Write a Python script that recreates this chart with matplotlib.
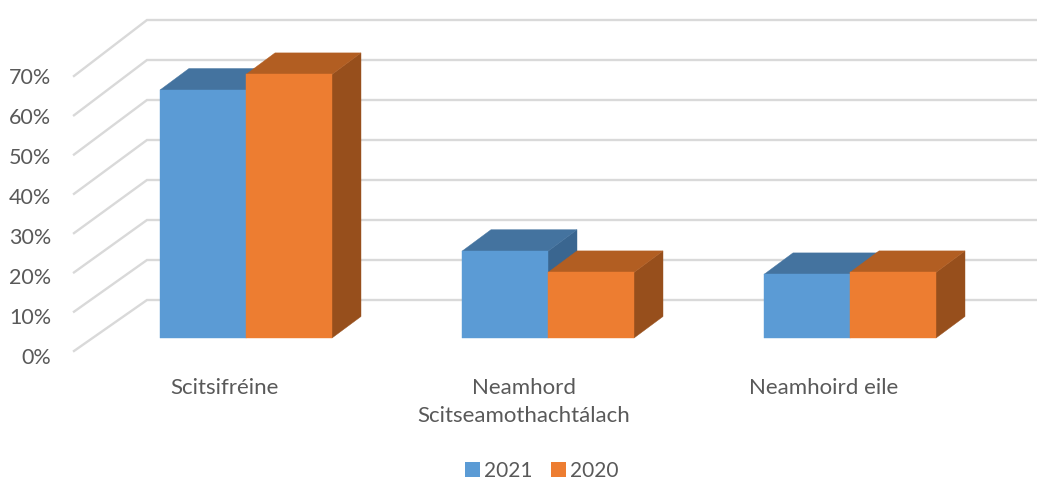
import matplotlib
matplotlib.use("Agg")
import matplotlib.pyplot as plt
from matplotlib.patches import Polygon, Patch

categories = ["Scitsifréine", "Neamhord\nScitseamothachtálach", "Neamhoird eile"]
series_names = ["2021", "2020"]
values_2021 = [62, 21.7, 15.9]
values_2020 = [65.9, 16.4, 16.4]
tick_values = [0, 10, 20, 30, 40, 50, 60, 70]

W, H = 1037, 479
plt.rcParams["font.family"] = ["Lato", "DejaVu Sans"]
TEXT = "#595959"
GRID = "#D9D9D9"
fills = {"2021": ("#5B9BD5", "#44739F", "#3A6690"), "2020": ("#ED7D31", "#B25E22", "#974F1C")}

fig = plt.figure(figsize=(W / 100, H / 100), dpi=100)
PX_CAT = 302.0      # pixels per category
PX_PCT = 4.0        # pixels per percent
CAT0 = 246.0        # pixel of first category centre
FLOOR = 338.0       # pixel row of bar floor
ax = fig.add_axes([0, 0, 1, 1])
ax.set_xlim(-CAT0 / PX_CAT, (W - CAT0) / PX_CAT)
ax.set_ylim((FLOOR - H) / PX_PCT, FLOOR / PX_PCT)
ax.axis("off")

def dx(p):
    return p / PX_CAT
def dy(p):
    return p / PX_PCT

# back wall grid lines and diagonal side-wall lines
x_back = dx(147 - CAT0)
x_front = dx(74 - CAT0)
for v in tick_values:
    yb = v + dy(38)                    # back wall row
    yf = yb - dy(51 + v * 5 / 70)      # front edge row
    ax.plot([x_front, x_back, (W - CAT0) / PX_CAT], [yf, yb, yb], color=GRID, lw=1.7,
            solid_joinstyle="miter", zorder=1)
    ax.text(dx(51 - CAT0), yb - dy(57.5), f"{v}%", ha="right", va="center",
            fontsize=15.5, color=TEXT, zorder=5)

# bars
bw = 86 / PX_CAT
ddx, ddy = dx(29), dy(21.5)
z = 2
for i in range(len(categories)):
    for name, vals, x0 in (("2021", values_2021, i - bw), ("2020", values_2020, i)):
        v = vals[i]
        face, top, side = fills[name]
        x1 = x0 + bw
        ax.add_patch(Polygon([(x1, 0), (x1 + ddx, ddy), (x1 + ddx, v + ddy), (x1, v)],
                             closed=True, fc=side, ec=side, lw=0.3, zorder=z))
        ax.add_patch(Polygon([(x0, v), (x1, v), (x1 + ddx, v + ddy), (x0 + ddx, v + ddy)],
                             closed=True, fc=top, ec=top, lw=0.3, zorder=z))
        ax.add_patch(Polygon([(x0, 0), (x1, 0), (x1, v), (x0, v)],
                             closed=True, fc=face, ec=face, lw=0.3, zorder=z + 0.5))
        z += 1

# category labels
for i, c in enumerate(categories):
    ax.text(i - dx(22 + 2 * i), dy(338 - 378), c, ha="center", va="top", fontsize=16.0, color=TEXT,
            linespacing=1.5, zorder=5)

handles = [Patch(fc=fills[n][0], ec="none", label=n) for n in series_names]
ax.legend(handles=handles, loc="center", bbox_to_anchor=(541.5 / W, 1 - 471 / H), ncol=2, frameon=False,
          fontsize=15, labelcolor=TEXT, handlelength=0.72, handleheight=0.72, handletextpad=0.19,
          columnspacing=0.91, borderpad=0)

fig.savefig("out.png", dpi=100, facecolor="white")
